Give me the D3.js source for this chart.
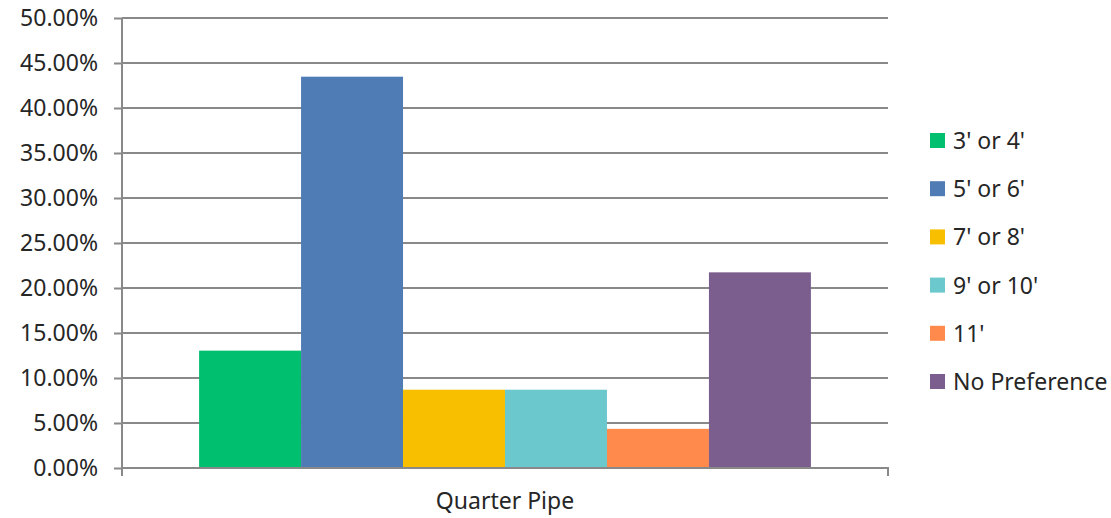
<!DOCTYPE html>
<html><head><meta charset="utf-8">
<script src="https://cdn.jsdelivr.net/npm/d3@7"></script>
<style>body{margin:0;background:#fff}svg{display:block}text{font-family:"Noto Sans",sans-serif;fill:#262626}</style>
</head><body>
<svg id="c" width="1111" height="518"></svg>
<script>
const category = "Quarter Pipe";
const series = ["3' or 4'", "5' or 6'", "7' or 8'", "9' or 10'", "11'", "No Preference"];
const values = [0.1304, 0.4348, 0.0870, 0.0870, 0.0435, 0.2174];
const colors = ["#00BF6F", "#4F7CB5", "#F8BE00", "#6BC8CD", "#FF8A4C", "#7C5E8E"];
const yTicks = [0, 0.05, 0.10, 0.15, 0.20, 0.25, 0.30, 0.35, 0.40, 0.45, 0.50];

const svg = d3.select("#c");
const L = 122, R = 888, T = 18, B = 468;
const FS = 23;
const y = d3.scaleLinear().domain([0, 0.5]).range([B, T]);
const x0 = d3.scaleBand().domain([category]).range([L, R]).paddingInner(0).paddingOuter(0.126);
const x1 = d3.scaleBand().domain(series).range([x0(category), x0(category) + x0.bandwidth()]).padding(0);

const grid = "#898989";
// gridlines
svg.append("g").selectAll("line").data(yTicks.filter(d => d > 0)).join("line")
  .attr("x1", L).attr("x2", R).attr("y1", d => y(d)).attr("y2", d => y(d))
  .attr("stroke", grid).attr("stroke-width", 2);

// y axis
const ya = svg.append("g").attr("transform", `translate(${L},0)`)
  .call(d3.axisLeft(y).tickValues(yTicks).tickFormat(d3.format(".2%")).tickSize(8).tickPadding(16));
ya.select(".domain").attr("stroke", grid).attr("stroke-width", 2).attr("d", `M0,${T}V${B+8}`);
ya.selectAll(".tick line").attr("stroke", grid).attr("stroke-width", 2);
ya.selectAll(".tick text").attr("font-size", FS).attr("fill", "#262626").attr("font-family", "Noto Sans");

// bars
svg.append("g").selectAll("rect").data(series).join("rect")
  .attr("x", d => x1(d)).attr("width", x1.bandwidth())
  .attr("y", (d, i) => y(values[i])).attr("height", (d, i) => B - y(values[i]))
  .attr("fill", (d, i) => colors[i]);

// x axis
const xa = svg.append("g").attr("transform", `translate(0,${B})`)
  .call(d3.axisBottom(x0).tickSize(0).tickPadding(25));
xa.select(".domain").attr("stroke", grid).attr("stroke-width", 2).attr("d", `M${L},0H${R}V8`);
xa.selectAll(".tick text").attr("font-size", FS).attr("fill", "#262626").attr("font-family", "Noto Sans");

// legend
const lg = svg.append("g");
const rows = lg.selectAll("g").data(series).join("g")
  .attr("transform", (d, i) => `translate(930,${141 + i * 48.2})`);
rows.append("rect").attr("x", 0).attr("y", -8).attr("width", 15).attr("height", 15)
  .attr("fill", (d, i) => colors[i]);
rows.append("text").attr("x", 23).attr("y", 0).attr("dy", "0.35em")
  .attr("font-size", FS).text(d => d);
</script>
</body></html>
